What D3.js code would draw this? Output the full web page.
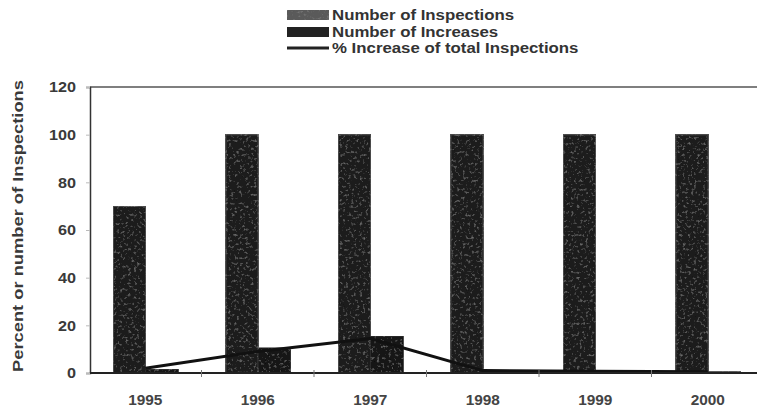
<!DOCTYPE html>
<html><head><meta charset="utf-8">
<script src="https://cdn.jsdelivr.net/npm/d3@7"></script>
<style>
html,body{margin:0;padding:0;background:#fff;}
svg{display:block;font-family:"Liberation Sans",Arial,sans-serif;}
</style></head>
<body>
<svg id="c" width="759" height="414"></svg>
<script>
const years = ["1995","1996","1997","1998","1999","2000"];
const inspections = [70, 100, 100, 100, 100, 100];
const increases = [1.5, 10.5, 15.5, 1, 0.7, 0.5];
const pctIncrease = [2, 9, 14.5, 1, 0.7, 0.5];
const yTicks = [0, 20, 40, 60, 80, 100, 120];
const seriesNames = ["Number of Inspections", "Number of Increases", "% Increase of total Inspections"];
const yTitle = "Percent or number of Inspections";

(function(){
const svg = d3.select("#c");
const defs = svg.append("defs");
const f = defs.append("filter").attr("id","grain").attr("x",0).attr("y",0).attr("width",1).attr("height",1);
f.append("feTurbulence").attr("type","fractalNoise").attr("baseFrequency","0.35").attr("numOctaves",2).attr("seed",5).attr("result","n");
f.append("feColorMatrix").attr("in","n").attr("type","matrix")
 .attr("values","0 0 0 0 0.33  0 0 0 0 0.33  0 0 0 0 0.33  1.4 0 0 0 -0.8").attr("result","g");
f.append("feComposite").attr("in","g").attr("in2","SourceGraphic").attr("operator","in").attr("result","gi");
const fm = f.append("feMerge");
fm.append("feMergeNode").attr("in","SourceGraphic");
fm.append("feMergeNode").attr("in","gi");

function stretch(sel, k){
  sel.each(function(){
    const w = this.getComputedTextLength();
    d3.select(this).attr("textLength", w*k).attr("lengthAdjust","spacingAndGlyphs");
  });
}

const mLeft = 90, mRight = 757, mTop = 87, mBottom = 373;
const x = d3.scaleBand().domain(years).range([89, 764]).paddingInner(0).paddingOuter(0);
const y = d3.scaleLinear().domain([0,120]).range([mBottom, mTop]);
const sub = d3.scaleBand().domain(["insp","inc"]).range([-32, 33]);
const cx = d => x(d) + x.bandwidth()/2;

// frame
svg.append("line").attr("x1",mLeft).attr("x2",mRight).attr("y1",mTop).attr("y2",mTop).attr("stroke","#555").attr("stroke-width",1.5);

// bars
const rows = years.map((yr,i)=>({yr, insp:inspections[i], inc:increases[i]}));
svg.append("g").selectAll("rect").data(rows).join("rect")
  .attr("x", d => cx(d.yr) + sub("insp"))
  .attr("width", sub.bandwidth())
  .attr("y", d => y(d.insp))
  .attr("height", d => y(0) - y(d.insp))
  .attr("fill","#1b1b1b").attr("stroke","#4a4a4a").attr("stroke-width",1.4)
  .attr("filter","url(#grain)");
svg.append("g").selectAll("rect").data(rows).join("rect")
  .attr("x", d => cx(d.yr) + sub("inc"))
  .attr("width", sub.bandwidth())
  .attr("y", d => y(d.inc))
  .attr("height", d => y(0) - y(d.inc))
  .attr("fill","#141414").attr("stroke","#2a2a2a").attr("stroke-width",1)
  .attr("filter","url(#grain)");

// line
const line = d3.line().x((d,i)=>cx(years[i])).y(d=>y(d));
svg.append("path").datum(pctIncrease).attr("d", line)
  .attr("fill","none").attr("stroke","#111").attr("stroke-width",3).attr("stroke-linejoin","round");

// y axis
const yAxis = svg.append("g").attr("transform",`translate(${mLeft},0)`)
  .call(d3.axisLeft(y).tickValues(yTicks).tickSize(4).tickPadding(10));
yAxis.select(".domain").attr("stroke","#333").attr("stroke-width",1.5);
yAxis.selectAll(".tick line").attr("stroke","#bbb");
yAxis.selectAll("text").attr("font-size",15).attr("font-weight","bold").attr("fill","#3a3a3a")
  .attr("font-family","'Liberation Sans',Arial,sans-serif");
stretch(yAxis.selectAll("text"), 1.08);

// x axis
const xAxis = svg.append("g").attr("transform",`translate(0,${mBottom})`)
  .call(d3.axisBottom(x).tickSize(0).tickPadding(22));
xAxis.select(".domain").remove();
xAxis.selectAll("text").attr("font-size",14).attr("font-weight","bold").attr("fill","#444")
  .attr("font-family","'Liberation Sans',Arial,sans-serif");
stretch(xAxis.selectAll("text"), 1.1);
svg.append("line").attr("x1",mLeft).attr("x2",mRight).attr("y1",mBottom).attr("y2",mBottom).attr("stroke","#222").attr("stroke-width",2);
svg.append("g").selectAll("line").data(years.slice(1)).join("line")
  .attr("x1", d=>x(d)).attr("x2", d=>x(d)).attr("y1", mBottom-3).attr("y2", mBottom+4)
  .attr("stroke","#777").attr("stroke-width",1);

// y title
const yt = svg.append("text").attr("transform",`translate(23,${(mTop+mBottom)/2 - 4}) rotate(-90)`)
  .attr("text-anchor","middle").attr("font-size",15).attr("font-weight","bold").attr("fill","#3a3a3a")
  .text(yTitle);
stretch(yt, 1.22);

// legend
const lg = svg.append("g").attr("transform","translate(287,0)");
const ly = [15, 32, 48];
lg.append("rect").attr("x",0).attr("y",ly[0]-5).attr("width",42).attr("height",10).attr("fill","#5a5a5a").attr("filter","url(#grain)");
lg.append("rect").attr("x",0).attr("y",ly[1]-5).attr("width",42).attr("height",10).attr("fill","#222");
lg.append("line").attr("x1",0).attr("x2",42).attr("y1",ly[2]).attr("y2",ly[2]).attr("stroke","#222").attr("stroke-width",3);
const lt = lg.selectAll("text.l").data(seriesNames).join("text").attr("class","l")
  .attr("x",45).attr("y",(d,i)=>ly[i]).attr("dy","0.35em")
  .attr("font-size",14).attr("font-weight","bold").attr("fill","#333")
  .text(d=>d);
stretch(lt, 1.2);
})();
</script>
</body></html>
